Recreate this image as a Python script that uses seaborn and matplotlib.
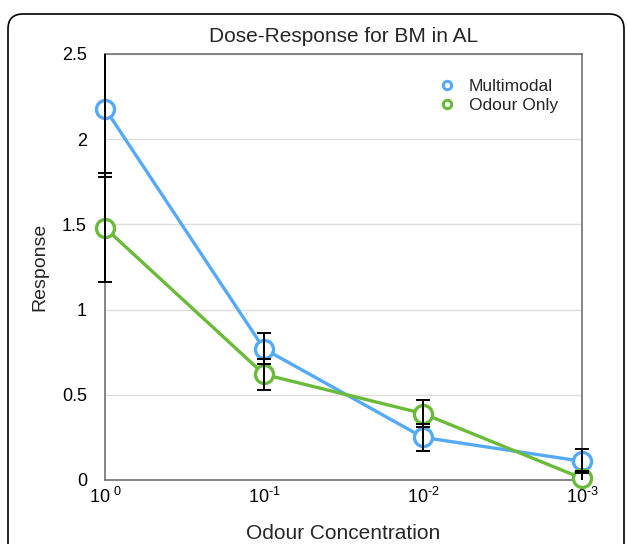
import matplotlib

matplotlib.use("Agg")

import matplotlib.pyplot as plt
import pandas as pd
import seaborn as sns
from matplotlib.lines import Line2D
from matplotlib.patches import FancyBboxPatch
from matplotlib.transforms import Bbox, TransformedBbox

# data
concentrations = ["$\\mathregular{10^{\\ 0}}$", "$\\mathregular{10^{\\text{-}1}}$",
                  "$\\mathregular{10^{\\text{-}2}}$", "$\\mathregular{10^{\\text{-}3}}$"]
multimodal = [2.18, 0.77, 0.25, 0.11]
multimodal_err = [0.40, 0.09, 0.08, 0.07]
odour_only = [1.48, 0.62, 0.39, 0.01]
odour_only_err = [0.32, 0.09, 0.08, 0.04]
series_names = ["Multimodal", "Odour Only"]
colors = {"Multimodal": "#55aaf7", "Odour Only": "#6bbb3a"}

positions = list(range(len(concentrations)))
data = pd.DataFrame({
    "pos": positions * 2,
    "response": multimodal + odour_only,
    "series": ["Multimodal"] * 4 + ["Odour Only"] * 4,
})

sns.set_style("whitegrid")
plt.rcParams["font.family"] = ["Liberation Sans", "DejaVu Sans"]
plt.rcParams["mathtext.fontset"] = "custom"
plt.rcParams["mathtext.rm"] = "Liberation Sans"

fig = plt.figure(figsize=(6.27, 5.44), dpi=100)
ax = fig.add_axes([105 / 627, 1 - 480 / 544, 477 / 627, 426 / 544])

sns.lineplot(data=data, x="pos", y="response", hue="series", palette=colors,
             marker="o", markersize=13, markeredgewidth=2.4, markerfacecolor="white",
             linewidth=2.4, legend=False, ax=ax, zorder=3)
for line in ax.lines:
    line.set_markeredgecolor(line.get_color())
    line.set_clip_on(False)

# error bars clipped vertically only, caps may hang over the side spines
clip = TransformedBbox(Bbox([[-0.05, 0.0], [1.05, 1.0]]), ax.transAxes)
for values, errs in [(multimodal, multimodal_err), (odour_only, odour_only_err)]:
    eb = ax.errorbar(positions, values, yerr=errs, fmt="none", ecolor="black",
                     elinewidth=1.4, capsize=5, capthick=1.4, zorder=4)
    for art in eb.lines[1] + eb.lines[2]:
        art.set_clip_box(clip)

ax.set_xlim(0, 3)
ax.set_ylim(0, 2.5)
ax.set_yticks([0, 0.5, 1, 1.5, 2, 2.5])
ax.set_yticklabels(["0", "0.5", "1", "1.5", "2", "2.5"])
ax.set_xticks(positions)
ax.set_xticklabels(concentrations)
ax.tick_params(axis="both", length=0, labelsize=13, colors="black")
ax.tick_params(axis="y", pad=13)
ax.tick_params(axis="x", pad=5)
ax.grid(axis="y", color="#dddddd", linewidth=1)
ax.grid(axis="x", visible=False)
for spine in ax.spines.values():
    spine.set_color("#666666")
    spine.set_linewidth(1.1)

ax.set_title("Dose-Response for BM in AL", fontsize=15, pad=9)
ax.set_xlabel("Odour Concentration", fontsize=15, labelpad=12)
ax.set_ylabel("Response", fontsize=14, labelpad=10)

handles = [Line2D([], [], linestyle="none", marker="o", markersize=6,
                  markerfacecolor="white", markeredgewidth=2.2,
                  markeredgecolor=colors[name], label=name) for name in series_names]
ax.legend(handles=handles, loc="upper right", bbox_to_anchor=(0.975, 0.97), frameon=False,
          fontsize=12.5, handletextpad=0.25, labelspacing=0.2, borderaxespad=0.3)

frame = FancyBboxPatch((0.08, -1.0), 6.16, 6.30, boxstyle="round,pad=0,rounding_size=0.15",
                       transform=fig.dpi_scale_trans, facecolor="none", edgecolor="black",
                       linewidth=1.2, clip_on=False)
fig.patches.append(frame)

fig.savefig("out.png", dpi=100)
